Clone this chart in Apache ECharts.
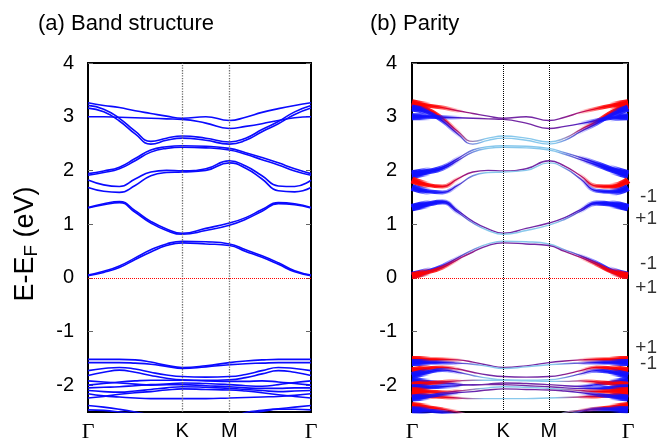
<!DOCTYPE html>
<html>
<head>
<meta charset="utf-8">
<script src="https://cdn.jsdelivr.net/npm/echarts@6/dist/echarts.min.js"></script>
<style>
  html, body { margin: 0; padding: 0; background: #fff; }
  #main { width: 669px; height: 443px; }
</style>
</head>
<body>
<div id="main"></div>
<script>
// k path Γ-K-M-Γ (lengths 4/3 : 2/3 : 2/sqrt3)
const kPath = [0, 0.222, 0.444, 0.667, 0.889, 1.111, 1.333, 1.667, 2.0, 2.231, 2.462, 2.693, 2.924, 3.155];
const kTicks = [0, 1.333, 2.0, 3.155];
const kLabels = ['Γ', 'K', 'M', 'Γ'];
const eTicks = [-2, -1, 0, 1, 2, 3, 4];

// bands (eV) at the kPath points
const bandsTop = [
  [3.26, 3.21, 3.17, 3.11, 3.06, 3.01, 2.97, 3.00, 2.93, 2.99, 3.08, 3.15, 3.21, 3.26],
  [3.21, 3.14, 2.97, 2.73, 2.54, 2.60, 2.64, 2.60, 2.53, 2.60, 2.76, 2.91, 3.09, 3.21],
  [3.16, 3.09, 2.92, 2.68, 2.49, 2.56, 2.60, 2.56, 2.49, 2.56, 2.72, 2.87, 3.04, 3.16],
  [3.00, 3.00, 2.99, 2.98, 2.97, 2.96, 2.95, 2.88, 2.78, 2.82, 2.87, 2.93, 2.98, 3.00]
];
const bandsMid = [
  [1.94, 1.99, 2.06, 2.22, 2.38, 2.44, 2.46, 2.45, 2.41, 2.33, 2.24, 2.14, 2.03, 1.94],
  [1.91, 1.96, 2.03, 2.18, 2.34, 2.41, 2.43, 2.42, 2.38, 2.30, 2.20, 2.10, 1.99, 1.91],
  [1.82, 1.73, 1.70, 1.84, 1.97, 2.00, 1.99, 2.03, 2.18, 2.08, 1.90, 1.71, 1.70, 1.82],
  [1.68, 1.61, 1.59, 1.72, 1.90, 1.96, 1.97, 2.00, 2.14, 2.04, 1.84, 1.62, 1.60, 1.68]
];
const bandsLow = [
  [1.31, 1.38, 1.42, 1.25, 1.05, 0.91, 0.83, 0.92, 1.02, 1.12, 1.27, 1.40, 1.38, 1.31],
  [1.30, 1.36, 1.40, 1.22, 1.02, 0.88, 0.81, 0.88, 0.98, 1.09, 1.24, 1.38, 1.36, 1.30],
  [0.05, 0.12, 0.22, 0.37, 0.52, 0.63, 0.68, 0.67, 0.63, 0.52, 0.41, 0.28, 0.13, 0.05],
  [0.04, 0.10, 0.19, 0.34, 0.48, 0.60, 0.65, 0.63, 0.60, 0.49, 0.38, 0.25, 0.11, 0.04]
];
const bandsValence = [
  [-1.52, -1.52, -1.52, -1.53, -1.57, -1.63, -1.67, -1.64, -1.58, -1.55, -1.53, -1.52, -1.52, -1.52],
  [-1.58, -1.58, -1.58, -1.59, -1.61, -1.65, -1.69, -1.66, -1.62, -1.60, -1.59, -1.58, -1.58, -1.58],
  [-1.73, -1.69, -1.67, -1.70, -1.76, -1.81, -1.84, -1.85, -1.84, -1.80, -1.73, -1.67, -1.69, -1.73],
  [-1.82, -1.76, -1.72, -1.76, -1.82, -1.87, -1.90, -1.91, -1.90, -1.86, -1.79, -1.73, -1.76, -1.82],
  [-1.92, -1.94, -1.96, -1.98, -2.00, -1.98, -1.96, -1.97, -1.99, -2.01, -2.02, -1.99, -1.95, -1.92],
  [-2.00, -1.97, -1.94, -1.92, -1.91, -1.91, -1.91, -1.92, -1.93, -1.93, -1.92, -1.94, -1.97, -2.00],
  [-2.05, -2.04, -2.03, -2.01, -1.99, -1.99, -1.99, -2.01, -2.03, -2.05, -2.06, -2.06, -2.05, -2.05],
  [-2.10, -2.12, -2.13, -2.11, -2.08, -2.05, -2.03, -2.04, -2.06, -2.08, -2.10, -2.12, -2.11, -2.10],
  [-2.16, -2.20, -2.22, -2.24, -2.25, -2.25, -2.25, -2.25, -2.24, -2.23, -2.22, -2.21, -2.19, -2.16],
  [-2.24, -2.21, -2.17, -2.14, -2.12, -2.09, -2.07, -2.08, -2.09, -2.11, -2.14, -2.18, -2.21, -2.24],
  [-2.38, -2.41, -2.45, -2.50, -2.56, -2.61, -2.64, -2.65, -2.62, -2.51, -2.47, -2.44, -2.41, -2.38],
  [-2.46, -2.47, -2.50, -2.54, -2.58, -2.62, -2.64, -2.63, -2.60, -2.55, -2.49, -2.45, -2.45, -2.46]
];

// parity at Γ (+1 red, -1 blue) and colour away from Γ (p purple, c light blue)
const parityTop = [1, 1, -1, -1];
const parityMid = [-1, -1, 1, -1];
const parityLow = [-1, -1, -1, 1];
const parityValence = [1, -1, 1, -1, -1, 1, -1, 1, 1, -1, 1, -1];
const toneTop = ['p', 'c', 'c', 'p'];
const toneMid = ['c', 'c', 'p', 'c'];
const toneLow = ['p', 'c', 'c', 'p'];
const toneValence = ['p', 'c', 'p', 'c', 'p', 'c', 'p', 'c', 'c', 'p', 'c', 'c'];

// parity tags on the right of panel (b)
const parityTags = ['-1', '+1', '-1', '+1', '+1', '-1'];
const parityTagE = [1.50, 1.10, 0.26, -0.19, -1.31, -1.61];

const bands = [].concat(bandsTop, bandsMid, bandsLow, bandsValence);
const parity = [].concat(parityTop, parityMid, parityLow, parityValence);
const tones = [].concat(toneTop, toneMid, toneLow, toneValence);

const FONT = 'Liberation Sans, Arial, sans-serif';
const RED = '#ff0000', BLUE = '#1010ff', PURPLE = '#7428a4', SKY = '#88c8ec';

function pts(b) {
  return kPath.map((k, i) => [k, b[i]]);
}

function thinGrad(p, tone) {
  const end = p > 0 ? RED : BLUE;
  const mix = p > 0 ? '#b8126a' : '#4a1ec8';
  const mid = tone === 'c' ? SKY : PURPLE;
  return {
    type: 'linear', x: 0, y: 0, x2: 1, y2: 0,
    colorStops: [
      { offset: 0, color: end }, { offset: 0.08, color: end },
      { offset: 0.2, color: mix }, { offset: 0.34, color: mid },
      { offset: 0.66, color: mid }, { offset: 0.8, color: mix },
      { offset: 0.92, color: end }, { offset: 1, color: end }
    ]
  };
}

function fadeGrad(p, reach) {
  const c = p > 0 ? '255,0,0' : '16,16,255';
  return {
    type: 'linear', x: 0, y: 0, x2: 1, y2: 0,
    colorStops: [
      { offset: 0, color: 'rgba(' + c + ',1)' },
      { offset: reach * 0.5, color: 'rgba(' + c + ',0.85)' },
      { offset: reach, color: 'rgba(' + c + ',0)' },
      { offset: 1 - reach, color: 'rgba(' + c + ',0)' },
      { offset: 1 - reach * 0.5, color: 'rgba(' + c + ',0.85)' },
      { offset: 1, color: 'rgba(' + c + ',1)' }
    ]
  };
}

function bandLine(g, b, lineStyle, z) {
  return {
    type: 'line', xAxisIndex: g, yAxisIndex: g * 2, data: pts(b),
    smooth: true, symbol: 'none', showSymbol: false, silent: true,
    lineStyle: lineStyle, z: z
  };
}

function guide(g, vColor, vWidth) {
  const v = { color: vColor, type: 'dotted', width: vWidth };
  return {
    type: 'line', xAxisIndex: g, yAxisIndex: g * 2, data: [], silent: true, z: 1,
    markLine: {
      silent: true, symbol: ['none', 'none'], label: { show: false }, animation: false,
      data: [
        { xAxis: kTicks[1], lineStyle: v },
        { xAxis: kTicks[2], lineStyle: v },
        { yAxis: 0, lineStyle: { color: '#ff0000', type: 'dotted', width: 1 } }
      ]
    }
  };
}

function xAxisFor(g) {
  return {
    type: 'value', gridIndex: g, min: 0, max: kTicks[3],
    axisLine: { show: false }, axisTick: { show: false }, splitLine: { show: false },
    axisLabel: {
      customValues: kTicks, showMinLabel: true, showMaxLabel: true,
      margin: 9, fontSize: 20, color: '#000', fontFamily: FONT,
      formatter: v => {
        const i = kTicks.findIndex(t => Math.abs(t - v) < 1e-3);
        const s = i < 0 ? '' : kLabels[i];
        return s === 'Γ' ? '{g|Γ}' : s;
      },
      rich: { g: { fontFamily: 'Liberation Serif, serif', fontSize: 22, color: '#000' } }
    }
  };
}

function yAxisFor(g, mirror) {
  return {
    type: 'value', gridIndex: g, min: -2.5, max: 4, position: mirror ? 'right' : 'left',
    axisLine: { show: false }, splitLine: { show: false },
    axisTick: { show: true, inside: true, length: 5, customValues: eTicks, lineStyle: { color: '#666', width: 1 } },
    axisLabel: {
      show: !mirror, customValues: eTicks, showMinLabel: true, showMaxLabel: true,
      margin: g === 0 ? 14 : 15, fontSize: 20, color: '#000', fontFamily: FONT
    }
  };
}

const series = [guide(0, '#707070', 1.3), guide(1, '#000000', 1)];
bands.forEach(b => {
  series.push(bandLine(0, b, { color: '#0a0aff', width: 1.6 }, 3));
});
bands.forEach((b, i) => {
  series.push(bandLine(1, b, { color: thinGrad(parity[i], tones[i]), width: 1.4 }, 3));
  series.push(bandLine(1, b, { color: fadeGrad(parity[i], 0.24), width: 4 }, 4));
  series.push(bandLine(1, b, { color: fadeGrad(parity[i], 0.1), width: 7 }, 4));
});
series.push({
  type: 'scatter', xAxisIndex: 1, yAxisIndex: 2, symbolSize: 0, clip: false, silent: true, z: 5,
  data: parityTagE.map(e => [kTicks[3], e]),
  label: {
    show: true, position: [29, 0], align: 'right', verticalAlign: 'middle',
    fontSize: 19, color: '#000', fontFamily: FONT,
    formatter: p => parityTags[p.dataIndex]
  }
});

const chart = echarts.init(document.getElementById('main'), null, { renderer: 'canvas' });
chart.setOption({
  animation: false,
  backgroundColor: '#fff',
  textStyle: { fontFamily: FONT },
  grid: [
    { left: 88, top: 63, width: 223, height: 349, show: true, borderColor: '#000', borderWidth: 2, outerBoundsMode: 'none' },
    { left: 412, top: 63, width: 216, height: 349, show: true, borderColor: '#000', borderWidth: 2, outerBoundsMode: 'none' }
  ],
  xAxis: [xAxisFor(0), xAxisFor(1)],
  yAxis: [yAxisFor(0, false), yAxisFor(0, true), yAxisFor(1, false), yAxisFor(1, true)],
  graphic: [
    { type: 'text', left: 38, top: 13, style: { text: '(a) Band structure', fontSize: 22, fontFamily: FONT, fill: '#000' } },
    { type: 'text', left: 370, top: 13, style: { text: '(b) Parity', fontSize: 22, fontFamily: FONT, fill: '#000' } },
    {
      type: 'text', x: 26, y: 244, rotation: Math.PI / 2,
      style: {
        text: '{a|E-E}{s|F}{a| (eV)}', align: 'center', verticalAlign: 'middle', fill: '#000',
        rich: {
          a: { fontSize: 27, lineHeight: 29, fontFamily: FONT, fill: '#000' },
          s: { fontSize: 19, lineHeight: 19, padding: [12, 0, 0, 0], fontFamily: FONT, fill: '#000' }
        }
      }
    }
  ],
  series: series
});
</script>
</body>
</html>
